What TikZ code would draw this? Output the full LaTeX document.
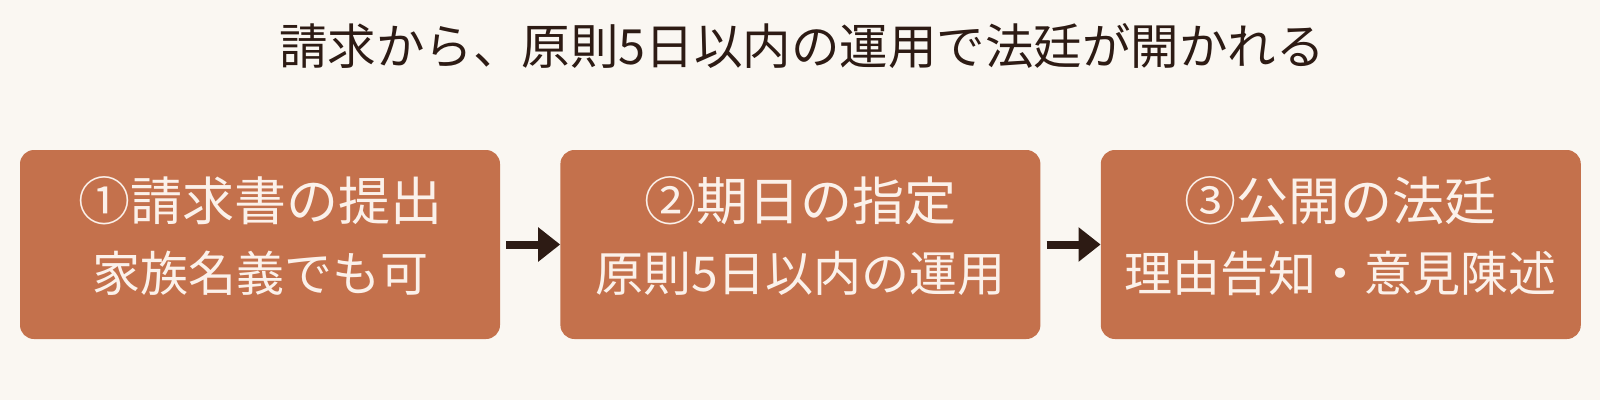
\documentclass[tikz,border=0pt]{standalone}
\usepackage{fontspec}
\setmainfont{Noto Sans CJK JP}
\usetikzlibrary{positioning, arrows.meta}
\definecolor{paper}{HTML}{FAF7F2}
\definecolor{clay}{HTML}{C4714C}
\definecolor{ink}{HTML}{2D1B14}
\definecolor{cream}{HTML}{FBF1EA}

\begin{document}
\begin{tikzpicture}[x=1pt, y=1pt,
    stepbox/.style={fill=clay, rounded corners=14pt, minimum width=480pt, minimum height=189pt, inner sep=0pt},
    headtext/.style={text=cream, anchor=base, inner sep=0pt, font=\fontsize{52pt}{60pt}\selectfont},
    subtext/.style={text=cream, anchor=base, inner sep=0pt, font=\fontsize{48pt}{56pt}\selectfont},
    flow/.style={-{Triangle[length=22pt, width=33pt]}, line width=8pt, draw=ink, shorten <=6pt}]
    \fill [paper] (0,0) rectangle (1600,400);
    \useasboundingbox (0,0) rectangle (1600,400);
    % title
    \node [text=ink, anchor=base, inner sep=0pt, font=\fontsize{48.5pt}{60pt}\selectfont] (title) at (802,336) {請求から、原則5日以内の運用で法廷が開かれる};
    % steps
    \node [stepbox] (claim) at (260,155.5) {};
    \node [stepbox, right=60pt of claim] (date) {};
    \node [stepbox, right=60pt of date] (court) {};
    \node [headtext] (claimhead) at ([yshift=24.5pt]claim.center) {①請求書の提出};
    \node [subtext] (claimsub) at ([yshift=-46.5pt]claim.center) {家族名義でも可};
    \node [headtext] (datehead) at ([yshift=24.5pt]date.center) {②期日の指定};
    \node [subtext] (datesub) at ([yshift=-46.5pt]date.center) {原則5日以内の運用};
    \node [headtext] (courthead) at ([yshift=24.5pt]court.center) {③公開の法廷};
    \node [subtext] (courtsub) at ([yshift=-46.5pt]court.center) {理由告知・意見陳述};
    \draw [flow] (claim) -- (date);
    \draw [flow] (date) -- (court);
\end{tikzpicture}
\end{document}
